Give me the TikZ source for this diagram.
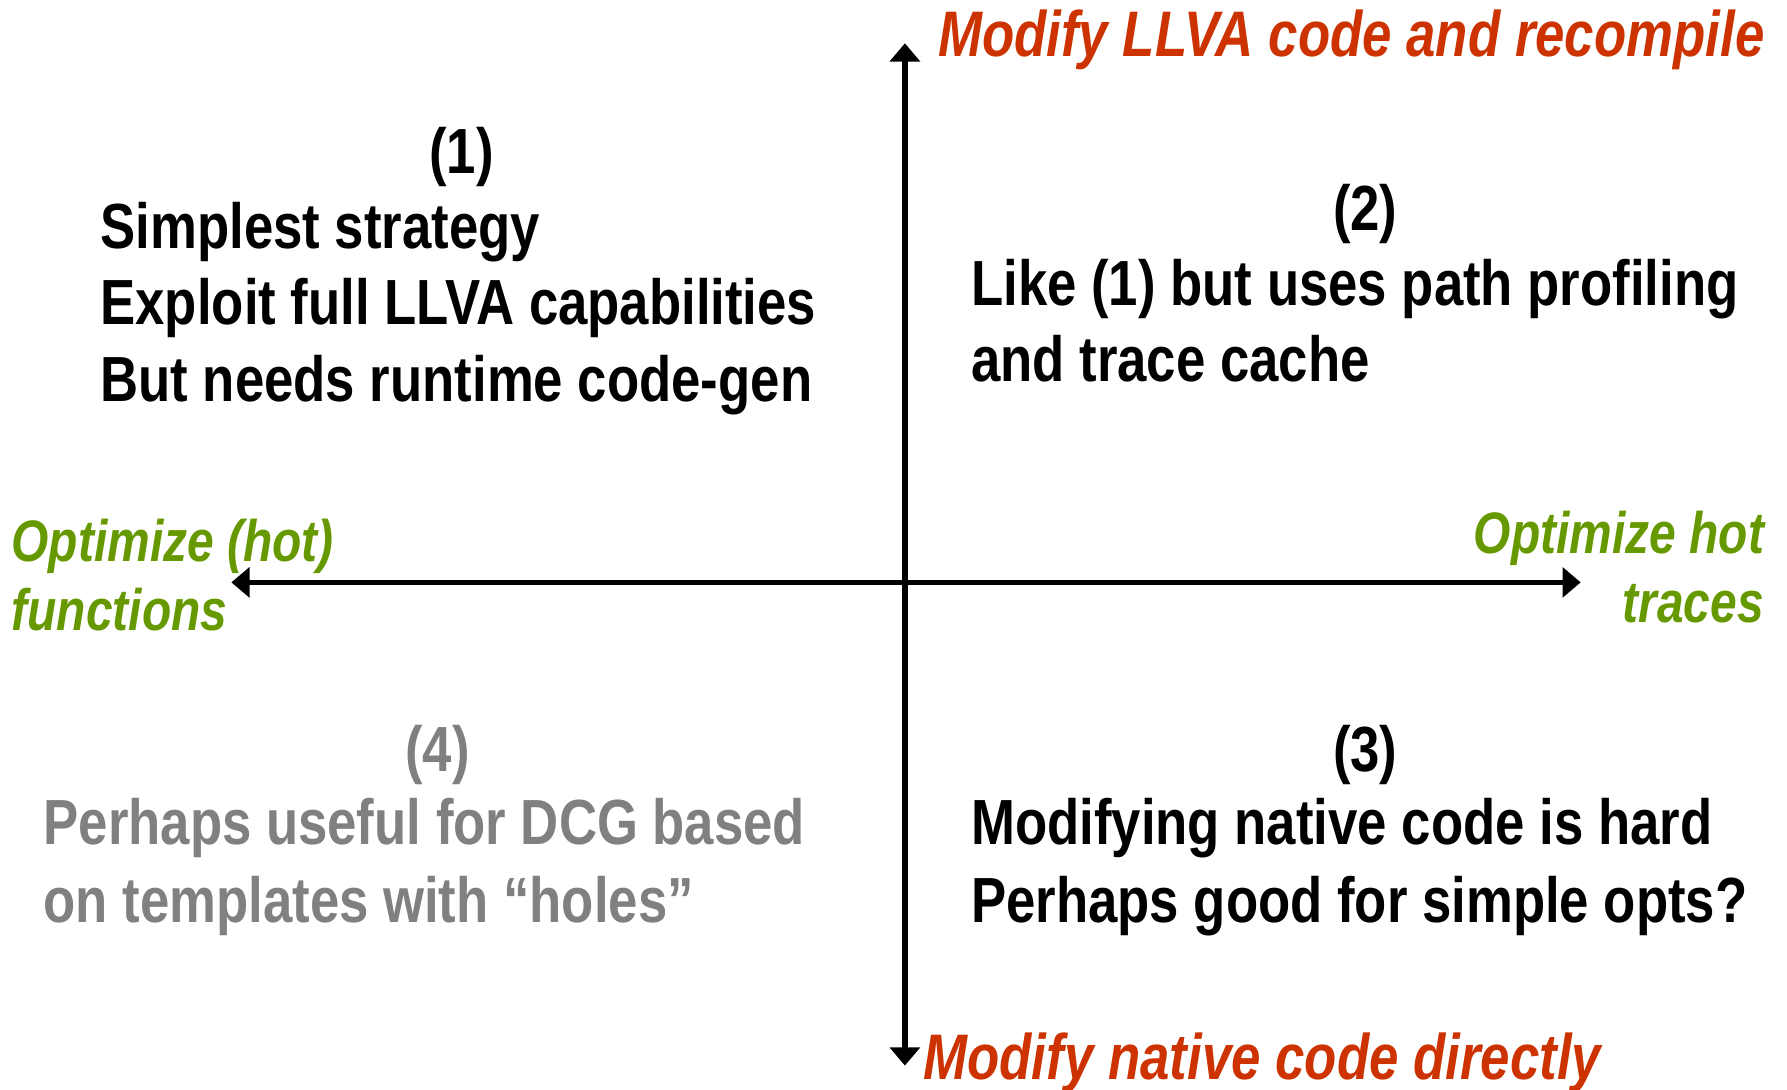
\documentclass[tikz,border=0pt]{standalone}
\usepackage{fontspec}
\usetikzlibrary{arrows.meta}
\newfontfamily\narrowsans{Liberation Sans}[FakeStretch=0.826]
\newfontfamily\narrowital{Liberation Sans}[FakeStretch=0.82]
\definecolor{axisred}{HTML}{CC3300}
\definecolor{axisgreen}{HTML}{669900}
\definecolor{softgray}{HTML}{808080}
\begin{document}
\begin{tikzpicture}[x=1pt,y=-1pt,
  txt/.style={inner sep=0pt,font=\narrowsans\bfseries\fontsize{56}{67}\selectfont},
  body/.style={txt,anchor=base west},
  num/.style={txt,anchor=base},
  redlabel/.style={inner sep=0pt,text=axisred,font=\narrowital\bfseries\itshape\fontsize{56.5}{67}\selectfont},
  greenlabel/.style={inner sep=0pt,text=axisgreen,font=\narrowital\bfseries\itshape\fontsize{51.3}{60}\selectfont},
  axisline/.style={line width=5pt,-{Triangle[length=16pt,width=26pt]}}]
\useasboundingbox (0,0) rectangle (1568,956);

% axes
\coordinate (o) at (794,511);
\coordinate (top) at (794,38);
\coordinate (bottom) at (794,935);
\coordinate (left) at (203,511);
\coordinate (right) at (1387,511);
\draw[axisline] (o) -- (top);
\draw[axisline] (o) -- (bottom);
\draw[axisline] (o) -- (left);
\draw[axisline] (o) -- (right);

% axis captions
\node[redlabel,anchor=base west] (ytop) at (823,50) {Modify LLVA code and recompile};
\node[redlabel,anchor=base west] (ybot) at (810,947) {Modify native code directly};
\node[greenlabel,anchor=base west] (xl1) at (10,493) {Optimize (hot)};
\node[greenlabel,anchor=base west] (xl2) at (10,553) {functions};
\node[greenlabel,anchor=base east] (xr1) at (1548,486) {Optimize hot};
\node[greenlabel,anchor=base east] (xr2) at (1548,546) {traces};

% quadrant (1)
\node[num] (n1) at (405,152) {(1)};
\node[body] (q1a) at (88,218) {Simplest strategy};
\node[body] (q1b) at (88,285) {Exploit full LLVA capabilities};
\node[body] (q1c) at (88,352) {But needs runtime code-gen};

% quadrant (2)
\node[num] (n2) at (1198,202) {(2)};
\node[body] (q2a) at (852,268) {Like (1) but uses path profiling};
\node[body] (q2b) at (852,335) {and trace cache};

% quadrant (3)
\node[num] (n3) at (1198,677) {(3)};
\node[body] (q3a) at (852,741) {Modifying native code is hard};
\node[body] (q3b) at (852,809) {Perhaps good for simple opts?};

% quadrant (4)
\node[num,text=softgray] (n4) at (384,677) {(4)};
\node[body,text=softgray] (q4a) at (38,741) {Perhaps useful for DCG based};
\node[body,text=softgray] (q4b) at (38,809) {on templates with “holes”};
\end{tikzpicture}
\end{document}
